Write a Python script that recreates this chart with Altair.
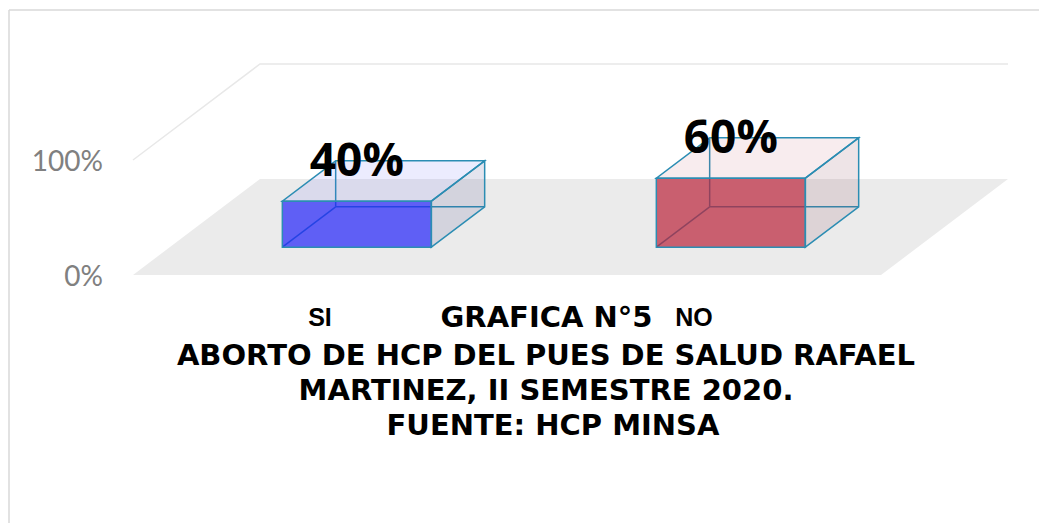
import altair as alt
import pandas as pd

# ---------------- data ----------------
categories = ["SI", "NO"]
values = [40, 60]
value_labels = ["40%", "60%"]
ytick_values = [0, 100]
ytick_labels = ["0%", "100%"]
title_lines = [
    "GRAFICA N°5",
    "ABORTO DE HCP DEL PUES DE SALUD RAFAEL",
    "MARTINEZ, II SEMESTRE 2020.",
    "FUENTE: HCP MINSA",
]

# ---------------- styles ----------------
front_colors = ["#2323f9", "#ba243b"]
top_colors = ["#5f5ff5", "#c95f72"]
side_colors = ["#4b4b8c", "#8c4b5e"]
EDGE = "#2b8db3"
FLOOR = "#ebebeb"
GRID = "#e8e8e8"
FRAME = "#d9d9d9"

# ---------------- layout / projection (page pixels) ----------------
W, H = 1031, 515
MARGIN = 8
Y0 = 275.0          # page y of the 0% level on the front plane
PX_PER_U = 1.15     # pixels per percent unit
X0 = 320.0          # first category centre on the front plane
STEP = 374.0
BAR_W = 149.0
DXP = 127.0         # horizontal shift for full depth
DYP = 96.0          # vertical shift for full depth
DU = DYP / PX_PER_U
D0, D1 = 0.29, 0.71  # depth extent of the boxes
title_x = [538.5, 538, 538, 545]
title_y = [319, 357, 392, 427]
cat_label_y = 318
tick_label_x = 95

xs = alt.Scale(domain=[MARGIN, MARGIN + W], nice=False, zero=False)
ys = alt.Scale(domain=[(Y0 - MARGIN - H) / PX_PER_U, (Y0 - MARGIN) / PX_PER_U],
               nice=False, zero=False)


def X(f):
    return alt.X(f, type="quantitative", scale=xs, axis=None, stack=None)


def Y(f):
    return alt.Y(f, type="quantitative", scale=ys, axis=None, stack=None)


n = len(categories)
fl = X0 - STEP / 2
fr = X0 + (n - 1) * STEP + STEP / 2

layers = []

# frame
one = pd.DataFrame({"a": [0]})
layers.append(alt.Chart(one).mark_rule(color=FRAME, strokeWidth=1.5).encode(
    x=alt.value(1), x2=alt.value(W), y=alt.value(2)))
layers.append(alt.Chart(one).mark_rule(color=FRAME, strokeWidth=1.5).encode(
    x=alt.value(1), y=alt.value(2), y2=alt.value(H)))

# floor
floor = pd.DataFrame({"u": [0, DU], "xl": [fl, fl + DXP], "xr": [fr, fr + DXP]})
layers.append(alt.Chart(floor).mark_area(orient="horizontal", color=FLOOR).encode(
    y=Y("u"), x=X("xl"), x2="xr"))

# y tick labels
ticks = pd.DataFrame({"v": ytick_values, "t": ytick_labels})
layers.append(alt.Chart(ticks).mark_text(
    font="Lato", fontSize=28, color="#808080", align="right",
    baseline="middle", dy=3).encode(
    x=alt.value(tick_label_x), y=Y("v"), text="t:N"))

# 100% gridline on side and back walls
gtop = ytick_values[-1]
grid = pd.DataFrame({"k": [0, 1, 2], "x": [fl, fl + DXP, fr + DXP],
                     "u": [gtop, gtop + DU, gtop + DU]})
layers.append(alt.Chart(grid).mark_line(color=GRID, strokeWidth=1.5).encode(
    x=X("x"), y=Y("u"), order=alt.Order("k:Q")))

for i, (cat, v, lab) in enumerate(zip(categories, values, value_labels)):
    cx = X0 + i * STEP
    xl = cx - BAR_W / 2
    xb = xl + D1 * DXP
    # hidden edges
    hid = pd.DataFrame({
        "edge": ["a", "a", "b", "b", "c", "c"],
        "k": [0, 1, 0, 1, 0, 1],
        "x": [xb, xb, xb, xb + BAR_W, xl + D0 * DXP, xb],
        "u": [D1 * DU, v + D1 * DU, D1 * DU, D1 * DU, D0 * DU, D1 * DU],
    })
    layers.append(alt.Chart(hid).mark_line(color=EDGE, strokeWidth=1.5).encode(
        x=X("x"), y=Y("u"), detail="edge:N", order=alt.Order("k:Q")))
    # front face
    front = pd.DataFrame({"x1": [xl + D0 * DXP], "x2": [xl + D0 * DXP + BAR_W],
                          "u1": [D0 * DU], "u2": [v + D0 * DU]})
    layers.append(alt.Chart(front).mark_rect(
        fill=front_colors[i], fillOpacity=0.7, stroke=EDGE, strokeWidth=1.5,
        strokeOpacity=1).encode(x=X("x1"), x2="x2", y=Y("u1"), y2="u2"))
    # top face
    top = pd.DataFrame({"u": [v + D0 * DU, v + D1 * DU],
                        "xl": [xl + D0 * DXP, xl + D1 * DXP],
                        "xr": [xl + D0 * DXP + BAR_W, xl + D1 * DXP + BAR_W]})
    layers.append(alt.Chart(top).mark_area(
        orient="horizontal", fill=top_colors[i], fillOpacity=0.12, stroke=EDGE,
        strokeWidth=1.5).encode(y=Y("u"), x=X("xl"), x2="xr"))
    # side face
    side = pd.DataFrame({"x": [xl + BAR_W + D0 * DXP, xl + BAR_W + D1 * DXP],
                         "ub": [D0 * DU, D1 * DU],
                         "ut": [v + D0 * DU, v + D1 * DU]})
    layers.append(alt.Chart(side).mark_area(
        orient="vertical", fill=side_colors[i], fillOpacity=0.15, stroke=EDGE,
        strokeWidth=1.5).encode(x=X("x"), y=Y("ub"), y2="ut"))
    # value label
    vl = pd.DataFrame({"x": [cx + D0 * DXP], "u": [v + D0 * DU], "t": [lab]})
    layers.append(alt.Chart(vl).mark_text(
        font="Open Sans", fontWeight="bold", fontSize=46, baseline="alphabetic",
        align="center", dy=-25, color="black").encode(
        x=X("x"), y=Y("u"), text="t:N"))
    # category label
    cl = pd.DataFrame({"x": [cx], "t": [cat]})
    layers.append(alt.Chart(cl).mark_text(
        font="Liberation Sans", fontWeight="bold", fontSize=25,
        baseline="alphabetic", align="center", color="black").encode(
        x=X("x"), y=alt.value(cat_label_y), text="t:N"))

# title lines
for line, tx, ty in zip(title_lines, title_x, title_y):
    layers.append(alt.Chart(pd.DataFrame({"t": [line]})).mark_text(
        font="DejaVu Sans", fontWeight="bold", fontSize=29, baseline="alphabetic",
        align="center", color="black").encode(
        x=alt.value(tx), y=alt.value(ty), text="t:N"))

chart = alt.layer(*layers).properties(
    width=W, height=H, padding=0,
    autosize=alt.AutoSizeParams(type="none"),
    background="white",
).configure_view(stroke=None)

chart.save("out.html", embed_options={"renderer": "svg", "actions": False})
